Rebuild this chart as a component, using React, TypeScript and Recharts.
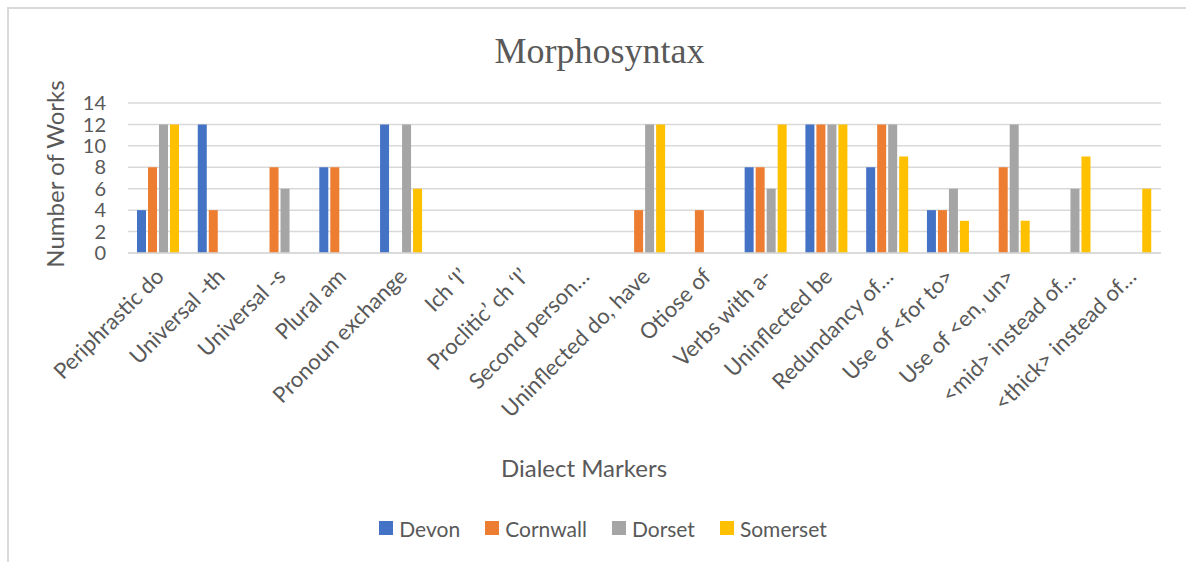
import { BarChart, Bar, XAxis, YAxis, CartesianGrid, Legend } from "recharts";

const categories = [
  "Periphrastic do",
  "Universal -th",
  "Universal -s",
  "Plural am",
  "Pronoun exchange",
  "Ich ‘I’",
  "Proclitic’ ch ‘I’",
  "Second person…",
  "Uninflected do, have",
  "Otiose of",
  "Verbs with a-",
  "Uninflected be",
  "Redundancy of…",
  "Use of <for to>",
  "Use of <en, un>",
  "<mid> instead of…",
  "<thick> instead of…",
];

const seriesNames = ["Devon", "Cornwall", "Dorset", "Somerset"];
const devon = [4, 12, 0, 8, 12, 0, 0, 0, 0, 0, 8, 12, 8, 4, 0, 0, 0];
const cornwall = [8, 4, 8, 8, 0, 0, 0, 0, 4, 4, 8, 12, 12, 4, 8, 0, 0];
const dorset = [12, 0, 6, 0, 12, 0, 0, 0, 12, 0, 6, 12, 12, 6, 12, 6, 0];
const somerset = [12, 0, 0, 0, 6, 0, 0, 0, 12, 0, 12, 12, 9, 3, 3, 9, 6];

const yTicks = [0, 2, 4, 6, 8, 10, 12, 14];

const FONT = "Lato, 'Open Sans', sans-serif";
const TEXT = "#595959";
const GRID = "#d9d9d9";

const data = categories.map((name, i) => ({
  name,
  Devon: devon[i],
  Cornwall: cornwall[i],
  Dorset: dorset[i],
  Somerset: somerset[i],
}));

function CategoryTick({ x, y, payload }: any) {
  const ax = x + 7;
  const ay = y + 25;
  return (
    <text
      x={ax}
      y={ay}
      transform={`rotate(-45 ${ax} ${ay})`}
      textAnchor="end"
      fontSize={22}
      fontFamily={FONT}
      fill={TEXT}
    >
      {payload.value}
    </text>
  );
}

function LegendContent({ payload }: any) {
  const items = [...(payload || [])].sort(
    (a: any, b: any) => seriesNames.indexOf(a.value) - seriesNames.indexOf(b.value)
  );
  return (
    <div
      style={{
        display: "flex",
        justifyContent: "center",
        alignItems: "center",
        height: 40,
        fontFamily: FONT,
        fontSize: 21,
        color: TEXT,
      }}
    >
      {items.map((p: any, i: number) => (
        <div
          key={p.value}
          style={{ display: "flex", alignItems: "center", marginLeft: i ? 25 : 0 }}
        >
          <span
            style={{ width: 14, height: 14, background: p.color, marginRight: 6, display: "inline-block" }}
          />
          <span>{p.value}</span>
        </div>
      ))}
    </div>
  );
}

export default function App() {
  return (
    <div
      style={{
        position: "absolute",
        left: 7,
        top: 7,
        width: 1177,
        height: 553,
        borderLeft: `2px solid ${GRID}`,
        borderTop: `2px solid ${GRID}`,
        background: "#fff",
      }}
    >
      <div style={{ position: "absolute", left: -9, top: -9, width: 1186, height: 562 }}>
        <svg
          width={1186}
          height={80}
          style={{ position: "absolute", left: 0, top: 0 }}
        >
          <text
            x={599.5}
            y={63}
            textAnchor="middle"
            fontFamily="'Liberation Serif', 'Times New Roman', serif"
            fontSize={36}
            fill={TEXT}
          >
            Morphosyntax
          </text>
        </svg>
        <BarChart
          width={1186}
          height={562}
          data={data}
          margin={{ top: 103, right: 25, left: 0, bottom: 0 }}
          barSize={9}
          barGap={2}
        >
          <CartesianGrid vertical={false} stroke={GRID} strokeWidth={1.5} />
          <XAxis
            dataKey="name"
            interval={0}
            height={269}
            tickLine={false}
            tickSize={0}
            tickMargin={0}
            axisLine={{ stroke: GRID, strokeWidth: 1.5 }}
            tick={<CategoryTick />}
            label={{
              content: (props: any) => {
                const vb = props.viewBox || { x: 128, y: 253, width: 1033 };
                return (
                  <text
                    x={vb.x + vb.width / 2 - 60.5}
                    y={vb.y + 224}
                    textAnchor="middle"
                    fontSize={24}
                    fontFamily={FONT}
                    fill={TEXT}
                  >
                    Dialect Markers
                  </text>
                );
              },
            }}
          />
          <YAxis
            width={128}
            domain={[0, 14]}
            ticks={yTicks}
            interval={0}
            axisLine={false}
            tickLine={false}
            tickSize={0}
            tickMargin={22}
            tick={{ fontSize: 20, fontFamily: FONT, fill: TEXT }}
            label={{
              content: (props: any) => {
                const vb = props.viewBox || { y: 103, height: 150 };
                const cy = vb.y + vb.height / 2 - 4;
                return (
                  <text
                    x={64}
                    y={cy}
                    transform={`rotate(-90 64 ${cy})`}
                    textAnchor="middle"
                    fontSize={24}
                    fontFamily={FONT}
                    fill={TEXT}
                  >
                    Number of Works
                  </text>
                );
              },
            }}
          />
          <Legend
            verticalAlign="bottom"
            content={<LegendContent />}
            wrapperStyle={{ left: 10, width: 1186, bottom: 14, height: 40 }}
          />
          <Bar dataKey="Devon" name="Devon" fill="#4472C4" isAnimationActive={false} />
          <Bar dataKey="Cornwall" name="Cornwall" fill="#ED7D31" isAnimationActive={false} />
          <Bar dataKey="Dorset" name="Dorset" fill="#A5A5A5" isAnimationActive={false} />
          <Bar dataKey="Somerset" name="Somerset" fill="#FFC000" isAnimationActive={false} />
        </BarChart>
      </div>
    </div>
  );
}
